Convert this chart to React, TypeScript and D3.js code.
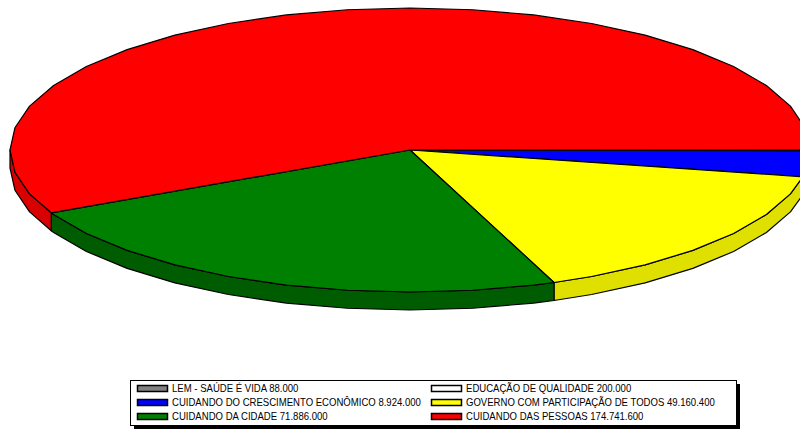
import React from 'react';
import * as d3 from 'd3';

const labels = [
  'LEM - SAÚDE É VIDA 88.000',
  'EDUCAÇÃO DE QUALIDADE 200.000',
  'CUIDANDO DO CRESCIMENTO ECONÔMICO 8.924.000',
  'GOVERNO COM PARTICIPAÇÃO DE TODOS 49.160.400',
  'CUIDANDO DA CIDADE 71.886.000',
  'CUIDANDO DAS PESSOAS 174.741.600',
];
const values = [88000, 200000, 8924000, 49160400, 71886000, 174741600];
const topColors = ['#808080', '#ffffff', '#0000ff', '#ffff00', '#008000', '#ff0000'];
const sideColors = ['#606060', '#d8d8d8', '#0000c0', '#e0e000', '#005c00', '#d80000'];

const width = 800;
const height = 430;
const cx = 410;
const cy = 150;
const rx = 400;
const ry = 142;
const depth = 18;
const step = Math.PI / 20;

const pt = (a: number, dy = 0): [number, number] => [cx + rx * Math.cos(a), cy + ry * Math.sin(a) + dy];

// points along the rim between two angles, polygonal like the original
const rim = (a0: number, a1: number) => {
  const out: number[] = [a0];
  let k = Math.floor(a0 / step) + 1;
  while (k * step < a1) {
    out.push(k * step);
    k++;
  }
  out.push(a1);
  return out;
};

const App = () => {
  const pie = d3.pie<number>().sort(null).startAngle(0).endAngle(Math.PI * 2);
  const arcs = pie(values);
  const line = d3.line();

  const sides = arcs
    .map((d, i) => {
      const a0 = Math.max(d.startAngle, 0);
      const a1 = Math.min(d.endAngle, Math.PI);
      if (a1 <= a0) return null;
      const angs = rim(a0, a1);
      const pts = [...angs.map(a => pt(a)), ...angs.slice().reverse().map(a => pt(a, depth))];
      return { i, d: line(pts) + 'Z' };
    })
    .filter(Boolean) as { i: number; d: string }[];

  const tops = arcs.map((d, i) => {
    const pts = [[cx, cy] as [number, number], ...rim(d.startAngle, d.endAngle).map(a => pt(a))];
    return { i, d: line(pts) + 'Z' };
  });

  const legendX = 130;
  const legendY = 380;
  const legendW = 606;
  const legendH = 45;
  const colX = [137, 431];
  const rowY = [388, 402, 416];

  return (
    <svg width={width} height={height} style={{ position: 'absolute', left: 0, top: 0, background: '#fff' }}>
      <g stroke="#000" strokeWidth={1.2} strokeLinejoin="round">
        {sides.map(s => (
          <path key={'s' + s.i} d={s.d} fill={sideColors[s.i]} />
        ))}
        {tops.map(t => (
          <path key={'t' + t.i} d={t.d} fill={topColors[t.i]} />
        ))}
      </g>
      <rect x={legendX + 4} y={legendY + 4} width={legendW} height={legendH} fill="#000" />
      <rect x={legendX + 0.5} y={legendY + 0.5} width={legendW} height={legendH} fill="#fff" stroke="#000" />
      {labels.map((l, i) => {
        const x = colX[i % 2];
        const y = rowY[Math.floor(i / 2)];
        return (
          <g key={l}>
            <rect x={x + 0.5} y={y - 3 + 0.5} width={30} height={6} fill={topColors[i]} stroke="#000" strokeWidth={1.5} />
            <text
              transform={`translate(${x + 35},${y + 4}) scale(0.87,1)`}
              fontFamily="Liberation Sans, Arial, sans-serif"
              fontSize={11}
              fill="#000"
            >
              {l}
            </text>
          </g>
        );
      })}
    </svg>
  );
};

export default App;
